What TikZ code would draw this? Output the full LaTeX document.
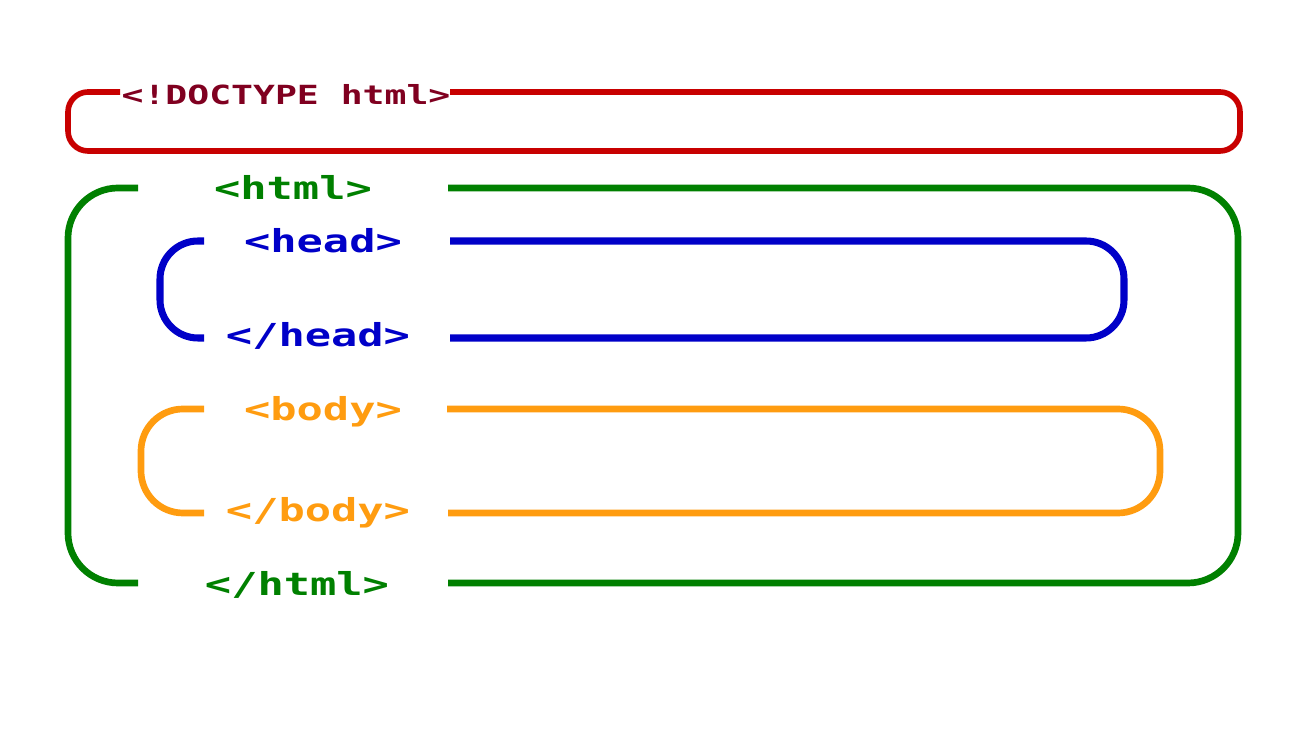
\documentclass[tikz,border=0pt]{standalone}
\usepackage{fontspec}
\newfontfamily\tagfont[FakeStretch=1.38]{DejaVu Sans Mono}
\definecolor{docline}{RGB}{200,0,0}
\definecolor{doctext}{RGB}{128,0,32}
\definecolor{htmlgreen}{RGB}{0,128,0}
\definecolor{headblue}{RGB}{0,0,200}
\definecolor{bodyorange}{RGB}{255,156,16}

\begin{document}
\begin{tikzpicture}[x=0.01cm, y=-0.01cm,
        tag/.style={inner sep=0pt, font=\tagfont\bfseries\fontsize{9}{10}\selectfont},
        box/.style={line width=1.9pt, line join=round}]
        \useasboundingbox (0,0) rectangle (1312,731);

        % labels
        \node[tag, text=doctext, font=\tagfont\bfseries\fontsize{7.5}{9}\selectfont] (doctype) at (286,95) {<!DOCTYPE html>};
        \node[tag, text=htmlgreen] (htmlopen) at (293,187) {<html>};
        \node[tag, text=htmlgreen] (htmlclose) at (297,585) {</html>};
        \node[tag, text=headblue] (headopen) at (323,241) {<head>};
        \node[tag, text=headblue] (headclose) at (318,336) {</head>};
        \node[tag, text=bodyorange] (bodyopen) at (323,412) {<body>};
        \node[tag, text=bodyorange] (bodyclose) at (318,513) {</body>};

        % boxes
        \draw[box, docline, line width=1.6pt, rounded corners=0.2cm]
            (450,92) -- (1240,92) -- (1240,151) -- (68,151) -- (68,92) -- (120,92);

        \draw[box, htmlgreen, rounded corners=0.5cm]
            (448,188) -- (1238,188) -- (1238,583) -- (448,583);
        \draw[box, htmlgreen, rounded corners=0.5cm]
            (138,188) -- (68,188) -- (68,583) -- (138,583);

        \draw[box, headblue, line width=2pt, rounded corners=0.38cm]
            (450,241) -- (1124,241) -- (1124,338) -- (450,338);
        \draw[box, headblue, line width=2pt, rounded corners=0.38cm]
            (204,241) -- (160,241) -- (160,338) -- (204,338);

        \draw[box, bodyorange, rounded corners=0.42cm]
            (447,409) -- (1160,409) -- (1160,513) -- (448,513);
        \draw[box, bodyorange, rounded corners=0.42cm]
            (204,409) -- (141,409) -- (141,513) -- (204,513);
\end{tikzpicture}
\end{document}
